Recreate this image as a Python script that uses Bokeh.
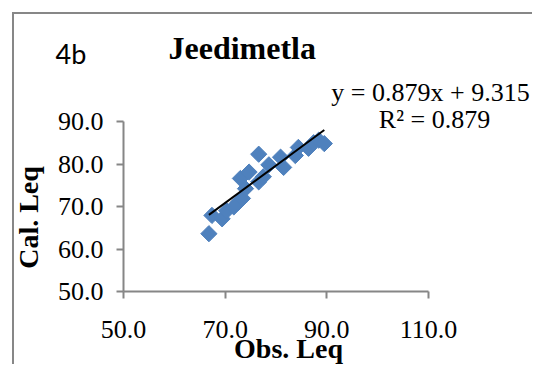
import numpy as np
from bokeh.plotting import figure
from bokeh.models import Label, Range1d, FixedTicker, NumeralTickFormatter
from bokeh.embed import file_html
from bokeh.resources import INLINE

# data
obs_leq = [66.8, 67.4, 69.4, 70.3, 71.7, 72.6, 73.4, 73.0, 74.0, 74.7, 76.6, 76.6,
           77.5, 78.6, 80.9, 81.5, 83.8, 84.4, 86.4, 87.4, 88.4, 89.5]
cal_leq = [63.6, 67.9, 67.1, 69.0, 69.9, 71.0, 71.9, 76.6, 74.2, 78.1, 82.3, 75.8,
           77.0, 79.8, 81.6, 79.2, 82.0, 83.9, 83.7, 85.0, 85.6, 84.8]
slope = 0.879
intercept = 9.315
r_squared = 0.879
x_ticks = [50, 70, 90, 110]
y_ticks = [50, 60, 70, 80, 90]

W, H = 520, 352
# plot area: x 50..110 over 305 px, y 50..90 over 170 px; frame spans whole canvas
fx_left, fx_right = 109, 414      # canvas px of x=50 and x=110
fy_top, fy_bottom = 107, 277      # canvas px of y=90 and y=50
xpp = (110 - 50) / (fx_right - fx_left)
ypp = (90 - 50) / (fy_bottom - fy_top)
x_range = Range1d(50 - fx_left * xpp, 110 + (W - fx_right) * xpp)
y_range = Range1d(50 - (H - fy_bottom) * ypp, 90 + fy_top * ypp)

def cx(px):  # canvas px -> data x
    return x_range.start + px * xpp

def cy(py):  # canvas px (from top) -> data y
    return y_range.end - py * ypp

p = figure(width=W, height=H, output_backend="svg", toolbar_location=None,
           x_range=x_range, y_range=y_range,
           min_border_left=0, min_border_right=0, min_border_top=0, min_border_bottom=0)
p.margin = (12, 0, 0, 12)
p.styles = {"border-left": "2px solid #878787", "border-top": "2px solid #878787"}
p.xgrid.visible = False
p.ygrid.visible = False
p.outline_line_color = None
p.background_fill_color = "white"
p.border_fill_color = "white"

# markers (rotated squares)
p.scatter(obs_leq, cal_leq, marker="square", size=11.5, angle=np.pi / 4,
          fill_color="#4F81BD", line_color="#4F81BD", line_width=1)

# trendline from equation over data range
xs = np.array([min(obs_leq), max(obs_leq)])
p.line(xs, slope * xs + intercept, line_color="black", line_width=2)

serif = "Liberation Serif"
for ax in (p.xaxis[0], p.yaxis[0]):
    ax.fixed_location = 50
    ax.axis_line_color = "#868686"
    ax.axis_line_width = 2
    ax.major_tick_line_color = "#868686"
    ax.major_tick_line_width = 2
    ax.major_tick_out = 7
    ax.major_tick_in = 0
    ax.minor_tick_line_color = None
    ax.major_label_text_font = serif
    ax.major_label_text_font_size = "26px"
    ax.major_label_text_color = "black"
    ax.formatter = NumeralTickFormatter(format="0.0")

p.xaxis[0].bounds = (x_ticks[0], x_ticks[-1])
p.yaxis[0].bounds = (y_ticks[0], y_ticks[-1])
p.xaxis[0].ticker = FixedTicker(ticks=x_ticks)
p.yaxis[0].ticker = FixedTicker(ticks=y_ticks)
p.xaxis[0].major_label_standoff = 22
p.yaxis[0].major_label_standoff = 13

def lab(px, py, text, **kw):
    opts = dict(text_font=serif, text_font_size="26px", text_color="black",
                text_baseline="alphabetic")
    opts.update(kw)
    p.add_layout(Label(x=cx(px), y=cy(py), text=text, **opts))

# positions in canvas pixels
lab(154, 33, "Jeedimetla", text_font_size="32px", text_font_style="bold")
lab(41, 39, "4b", text_font="Lato", text_font_size="27px")
lab(416, 78, f"y = {slope}x + {intercept}", text_align="center")
lab(420, 105, f"R² = {r_squared}", text_align="center")
lab(274, 334, "Obs. Leq", text_align="center", text_font_size="28px", text_font_style="bold")
lab(14, 203, "Cal. Leq", text_align="center", text_baseline="middle", angle=np.pi / 2,
    text_font_size="28px", text_font_style="bold")

open("out.html", "w").write(file_html(p, INLINE))
